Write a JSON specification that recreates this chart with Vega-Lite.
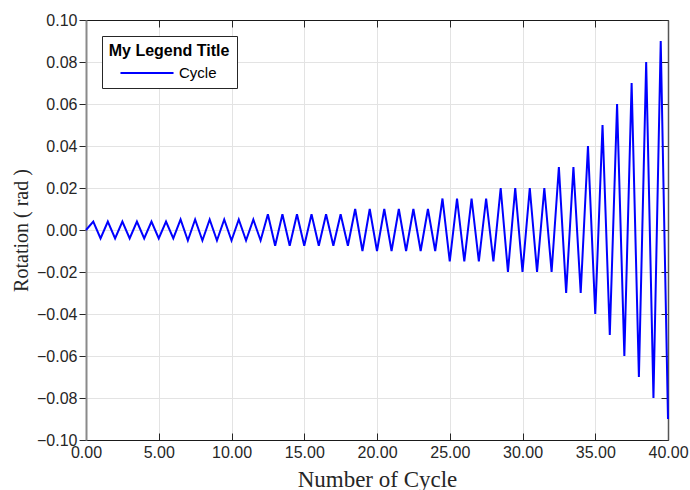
{
  "$schema": "https://vega.github.io/schema/vega-lite/v6.json",
  "width": 582,
  "height": 420,
  "autosize": {"type": "none"},
  "padding": {"left": 86, "top": 20, "right": 22, "bottom": 50},
  "background": "white",
  "config": {
    "view": {"stroke": null},
    "axis": {
      "labelFont": "Liberation Sans",
      "labelFontSize": 16,
      "labelColor": "#262626",
      "labelFlush": false,
      "titleFont": "Liberation Serif",
      "titleFontWeight": "normal",
      "titleColor": "#262626",
      "gridColor": "#e3e3e3",
      "gridWidth": 1,
      "tickColor": "#262626",
      "domainColor": "#262626"
    }
  },
  "data": {
    "values": [
      {"cycle": 0, "rotation": 0},
      {"cycle": 0.5, "rotation": 0.004}, {"cycle": 1, "rotation": -0.004},
      {"cycle": 1.5, "rotation": 0.004}, {"cycle": 2, "rotation": -0.004},
      {"cycle": 2.5, "rotation": 0.004}, {"cycle": 3, "rotation": -0.004},
      {"cycle": 3.5, "rotation": 0.004}, {"cycle": 4, "rotation": -0.004},
      {"cycle": 4.5, "rotation": 0.004}, {"cycle": 5, "rotation": -0.004},
      {"cycle": 5.5, "rotation": 0.004}, {"cycle": 6, "rotation": -0.004},
      {"cycle": 6.5, "rotation": 0.005}, {"cycle": 7, "rotation": -0.005},
      {"cycle": 7.5, "rotation": 0.005}, {"cycle": 8, "rotation": -0.005},
      {"cycle": 8.5, "rotation": 0.005}, {"cycle": 9, "rotation": -0.005},
      {"cycle": 9.5, "rotation": 0.005}, {"cycle": 10, "rotation": -0.005},
      {"cycle": 10.5, "rotation": 0.005}, {"cycle": 11, "rotation": -0.005},
      {"cycle": 11.5, "rotation": 0.005}, {"cycle": 12, "rotation": -0.005},
      {"cycle": 12.5, "rotation": 0.0075}, {"cycle": 13, "rotation": -0.0075},
      {"cycle": 13.5, "rotation": 0.0075}, {"cycle": 14, "rotation": -0.0075},
      {"cycle": 14.5, "rotation": 0.0075}, {"cycle": 15, "rotation": -0.0075},
      {"cycle": 15.5, "rotation": 0.0075}, {"cycle": 16, "rotation": -0.0075},
      {"cycle": 16.5, "rotation": 0.0075}, {"cycle": 17, "rotation": -0.0075},
      {"cycle": 17.5, "rotation": 0.0075}, {"cycle": 18, "rotation": -0.0075},
      {"cycle": 18.5, "rotation": 0.01}, {"cycle": 19, "rotation": -0.01},
      {"cycle": 19.5, "rotation": 0.01}, {"cycle": 20, "rotation": -0.01},
      {"cycle": 20.5, "rotation": 0.01}, {"cycle": 21, "rotation": -0.01},
      {"cycle": 21.5, "rotation": 0.01}, {"cycle": 22, "rotation": -0.01},
      {"cycle": 22.5, "rotation": 0.01}, {"cycle": 23, "rotation": -0.01},
      {"cycle": 23.5, "rotation": 0.01}, {"cycle": 24, "rotation": -0.01},
      {"cycle": 24.5, "rotation": 0.015}, {"cycle": 25, "rotation": -0.015},
      {"cycle": 25.5, "rotation": 0.015}, {"cycle": 26, "rotation": -0.015},
      {"cycle": 26.5, "rotation": 0.015}, {"cycle": 27, "rotation": -0.015},
      {"cycle": 27.5, "rotation": 0.015}, {"cycle": 28, "rotation": -0.015},
      {"cycle": 28.5, "rotation": 0.02}, {"cycle": 29, "rotation": -0.02},
      {"cycle": 29.5, "rotation": 0.02}, {"cycle": 30, "rotation": -0.02},
      {"cycle": 30.5, "rotation": 0.02}, {"cycle": 31, "rotation": -0.02},
      {"cycle": 31.5, "rotation": 0.02}, {"cycle": 32, "rotation": -0.02},
      {"cycle": 32.5, "rotation": 0.03}, {"cycle": 33, "rotation": -0.03},
      {"cycle": 33.5, "rotation": 0.03}, {"cycle": 34, "rotation": -0.03},
      {"cycle": 34.5, "rotation": 0.04}, {"cycle": 35, "rotation": -0.04},
      {"cycle": 35.5, "rotation": 0.05}, {"cycle": 36, "rotation": -0.05},
      {"cycle": 36.5, "rotation": 0.06}, {"cycle": 37, "rotation": -0.06},
      {"cycle": 37.5, "rotation": 0.07}, {"cycle": 38, "rotation": -0.07},
      {"cycle": 38.5, "rotation": 0.08}, {"cycle": 39, "rotation": -0.08},
      {"cycle": 39.5, "rotation": 0.09}, {"cycle": 40, "rotation": -0.09}
    ]
  },
  "layer": [
    {
      "mark": {"type": "line", "strokeWidth": 2, "strokeOpacity": 0},
      "encoding": {
        "x": {
          "field": "cycle", "type": "quantitative",
          "scale": {"domain": [0, 40], "nice": false, "zero": false},
          "axis": {"orient": "top", "title": null, "labels": false, "grid": true,
                   "values": [0, 5, 10, 15, 20, 25, 30, 35, 40],
                   "tickSize": -7, "domainColor": "#1a1a1a", "domainWidth": 1.2}
        },
        "y": {
          "field": "rotation", "type": "quantitative",
          "scale": {"domain": [-0.1, 0.1], "nice": false, "zero": false},
          "axis": {"orient": "right", "title": null, "labels": false, "grid": true,
                   "values": [-0.1, -0.08, -0.06, -0.04, -0.02, 0, 0.02, 0.04, 0.06, 0.08, 0.1],
                   "tickSize": -7, "domainColor": "#555555", "domainWidth": 1.5}
        }
      }
    },
    {
      "mark": {"type": "line", "strokeWidth": 2},
      "encoding": {
        "x": {
          "field": "cycle", "type": "quantitative",
          "axis": {"orient": "bottom", "title": "Number of Cycle", "titleFontSize": 23,
                   "titlePadding": 8, "format": ".2f", "grid": false,
                   "values": [0, 5, 10, 15, 20, 25, 30, 35, 40],
                   "tickSize": -7, "labelPadding": 11, "domainColor": "#1a1a1a", "domainWidth": 1.2}
        },
        "y": {
          "field": "rotation", "type": "quantitative",
          "axis": {"orient": "left", "title": "Rotation ( rad )", "titleFontSize": 20,
                   "titlePadding": 5, "format": ".2f", "grid": false,
                   "values": [-0.1, -0.08, -0.06, -0.04, -0.02, 0, 0.02, 0.04, 0.06, 0.08, 0.1],
                   "tickSize": 7, "labelPadding": 2, "domainColor": "#8a8a8a", "domainWidth": 2}
        },
        "color": {
          "datum": "Cycle",
          "scale": {"range": ["#0000ff"]},
          "legend": {
            "orient": "none", "legendX": 16, "legendY": 16,
            "title": "My Legend Title",
            "titleFont": "Liberation Sans", "titleFontSize": 16, "titleFontWeight": "bold",
            "titleColor": "#000000", "titleAnchor": "middle", "titlePadding": 6,
            "labelFont": "Liberation Sans", "labelFontSize": 15, "labelColor": "#000000",
            "symbolType": "M-4,0H4", "symbolSize": 176, "symbolStrokeWidth": 2,
            "symbolOffset": 17, "labelOffset": 24,
            "strokeColor": "#262626", "fillColor": "white", "padding": 7
          }
        }
      }
    }
  ],
  "resolve": {"axis": {"x": "independent", "y": "independent"}}
}
